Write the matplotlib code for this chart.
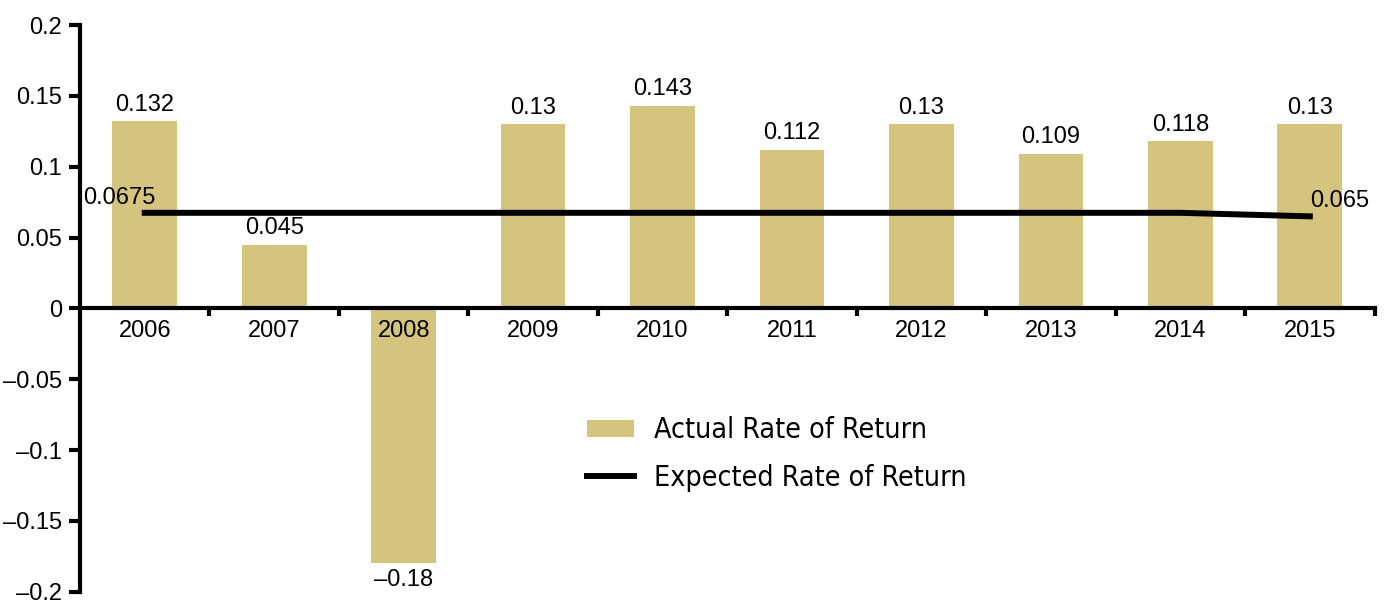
import numpy as np
import matplotlib.pyplot as plt
from matplotlib.ticker import FixedLocator, FuncFormatter

years = ['2006', '2007', '2008', '2009', '2010', '2011', '2012', '2013', '2014', '2015']
actual = [0.132, 0.045, -0.18, 0.13, 0.143, 0.112, 0.13, 0.109, 0.118, 0.13]
expected = [0.0675, 0.0675, 0.0675, 0.0675, 0.0675, 0.0675, 0.0675, 0.0675, 0.0675, 0.065]
yticks = [-0.2, -0.15, -0.1, -0.05, 0, 0.05, 0.1, 0.15, 0.2]

bar_color = '#D4C47E'
plt.rcParams['font.family'] = ['Liberation Sans', 'DejaVu Sans']

fig = plt.figure(figsize=(13.89, 6.12), dpi=100)
ax = fig.add_axes([0.0576, 0.033, 0.932, 0.926])
ax.set_axisbelow(False)

x = np.arange(len(years))
bars = ax.bar(x, actual, width=0.5, color=bar_color, label='Actual Rate of Return', zorder=1)
line, = ax.plot(x, expected, color='black', lw=4.3, label='Expected Rate of Return', zorder=3)

for xi, v in zip(x, actual):
    if v >= 0:
        ax.text(xi, v + 0.004, f'{v:g}', ha='center', va='bottom', fontsize=17)
    else:
        ax.text(xi, v - 0.004, f'{v:g}'.replace('-', '\u2013'), ha='center', va='top', fontsize=17)

ax.text(x[0] + 0.08, expected[0] + 0.003, f'{expected[0]:g}', ha='right', va='bottom', fontsize=17)
ax.text(x[-1], expected[-1] + 0.003, f'{expected[-1]:g}', ha='left', va='bottom', fontsize=17)

ax.set_xlim(-0.5, len(years) - 0.5)
ax.set_ylim(-0.2, 0.2)
ax.set_yticks(yticks)
ax.yaxis.set_major_formatter(FuncFormatter(lambda v, p: f'{v:g}'.replace('-', '\u2013')))
ax.tick_params(axis='y', direction='out', length=8, width=3, labelsize=17, pad=5)

ax.set_xticks(x)
ax.set_xticklabels(years)
ax.tick_params(axis='x', which='major', length=0, labelsize=17, pad=8)
ax.xaxis.set_minor_locator(FixedLocator(np.arange(0.5, len(years), 1.0)))
ax.tick_params(axis='x', which='minor', direction='out', length=6, width=3)

ax.spines['bottom'].set_position(('data', 0))
ax.spines['bottom'].set_linewidth(3)
ax.spines['left'].set_linewidth(3)
ax.spines['top'].set_visible(False)
ax.spines['right'].set_visible(False)

fig.legend([bars, line], ['Actual Rate of Return', 'Expected Rate of Return'],
           loc='center left', bbox_to_anchor=(0.4226, 0.258), frameon=False,
           borderpad=0, borderaxespad=0,
           handlelength=1.65, handleheight=0.55, labelspacing=0.68, handletextpad=0.72,
           prop={'family': 'DejaVu Sans', 'stretch': 'condensed', 'size': 20.5})

fig.savefig('out.png', dpi=100)
